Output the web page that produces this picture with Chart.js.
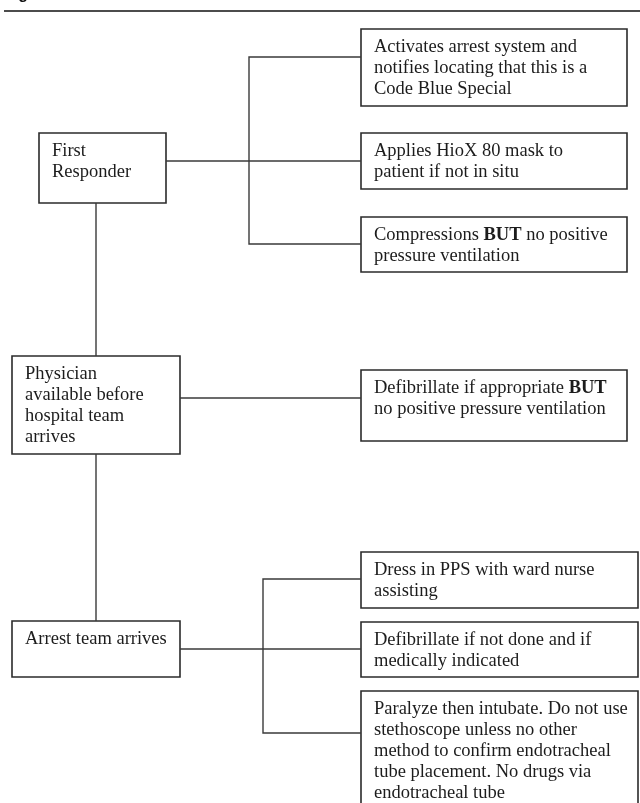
<!DOCTYPE html>
<html>
<head>
<meta charset="utf-8">
<script src="https://cdn.jsdelivr.net/npm/chart.js@4.4.1/dist/chart.umd.min.js"></script>
<style>
  html, body { margin: 0; padding: 0; background: #ffffff; }
  #wrap { width: 640px; height: 803px; overflow: hidden; }
  canvas { display: block; }
</style>
</head>
<body>
<div id="wrap"><canvas id="c" width="640" height="803"></canvas></div>
<script>
// ---- Diagram content (flowchart nodes and links, in diagram units) ----
const figureTitle = 'Figure 3';

const nodeText = [
  ['First', 'Responder'],
  ['Activates arrest system and', 'notifies locating that this is a', 'Code Blue Special'],
  ['Applies HioX 80 mask to', 'patient if not in situ'],
  ['Compressions **BUT** no positive', 'pressure ventilation'],
  ['Physician', 'available before', 'hospital team', 'arrives'],
  ['Defibrillate if appropriate **BUT**', 'no positive pressure ventilation'],
  ['Arrest team arrives'],
  ['Dress in PPS with ward nurse', 'assisting'],
  ['Defibrillate if not done and if', 'medically indicated'],
  ['Paralyze then intubate. Do not use', 'stethoscope unless no other', 'method to confirm endotracheal', 'tube placement. No drugs via', 'endotracheal tube']
];
const nodeLeft   = [39, 361, 361, 361, 12, 361, 12, 361, 361, 361];
const nodeRight  = [166, 627, 627, 627, 180, 627, 180, 638, 638, 638];
const nodeTop    = [133, 29, 133, 217, 356, 370, 621, 552, 622, 691];
const nodeBottom = [203, 106, 189, 272, 454, 441, 677, 608, 677, 840];

const ruleLine = [[4, 11], [640, 11]];
const links = [
  [[166, 161], [361, 161]],
  [[361, 57], [249, 57], [249, 244], [361, 244]],
  [[96, 203], [96, 356]],
  [[180, 398], [361, 398]],
  [[96, 454], [96, 621]],
  [[180, 649], [361, 649]],
  [[361, 579], [263, 579], [263, 733], [361, 733]]
];

// ---- build datasets ----
const ink = '#2b2b2b';
const datasets = [];
datasets.push({
  label: 'rule',
  data: ruleLine.map(p => ({ x: p[0], y: p[1] })),
  showLine: true, borderColor: '#111', borderWidth: 1.6, pointRadius: 0, fill: false
});
links.forEach((pts, i) => {
  datasets.push({
    label: 'link' + i,
    data: pts.map(p => ({ x: p[0], y: p[1] })),
    showLine: true, borderColor: '#3a3a3a', borderWidth: 1.4, pointRadius: 0, fill: false,
    borderJoinStyle: 'miter'
  });
});
nodeText.forEach((t, i) => {
  const x0 = nodeLeft[i], x1 = nodeRight[i], y0 = nodeTop[i], y1 = nodeBottom[i];
  datasets.push({
    label: 'box' + i,
    data: [{x: x0, y: y0}, {x: x1, y: y0}, {x: x1, y: y1}, {x: x0, y: y1}, {x: x0, y: y0}],
    showLine: true, borderColor: ink, borderWidth: 1.6, pointRadius: 0, fill: false,
    borderJoinStyle: 'miter', borderCapStyle: 'square'
  });
});

const FONT_SIZE = 18.5;
const FAMILY = '"Liberation Serif", "Times New Roman", serif';
const PAD_X = 13, FIRST_BASE = 23, LINE_H = 21;

function drawRich(ctx, str, x, y) {
  const parts = str.split('**');
  let cx = x;
  parts.forEach((seg, k) => {
    if (!seg) return;
    ctx.font = (k % 2 === 1 ? 'bold ' : '') + FONT_SIZE + 'px ' + FAMILY;
    ctx.fillText(seg, cx, y);
    cx += ctx.measureText(seg).width;
  });
}

const textPlugin = {
  id: 'nodeText',
  afterDatasetsDraw(chart) {
    const ctx = chart.ctx;
    const xs = chart.scales.x, ys = chart.scales.y;
    ctx.save();
    ctx.fillStyle = '#1c1c1c';
    ctx.textBaseline = 'alphabetic';
    ctx.textAlign = 'left';
    nodeText.forEach((lines, i) => {
      const px = xs.getPixelForValue(nodeLeft[i] + PAD_X);
      lines.forEach((ln, j) => {
        const py = ys.getPixelForValue(nodeTop[i] + FIRST_BASE + j * LINE_H);
        drawRich(ctx, ln, px, py);
      });
    });
    // cropped figure caption at top edge
    ctx.font = 'bold 16px "Liberation Sans", Arial, sans-serif';
    ctx.fillStyle = '#111';
    ctx.fillText(figureTitle, xs.getPixelForValue(4), ys.getPixelForValue(-1));
    ctx.restore();
  }
};

new Chart(document.getElementById('c'), {
  type: 'scatter',
  data: { datasets },
  options: {
    responsive: false,
    animation: false,
    devicePixelRatio: 1,
    layout: { padding: 0 },
    plugins: { legend: { display: false }, tooltip: { enabled: false }, title: { display: false } },
    scales: {
      x: { type: 'linear', min: 0, max: 640, display: false },
      y: { type: 'linear', min: 0, max: 803, reverse: true, display: false }
    },
    elements: { line: { tension: 0 } }
  },
  plugins: [textPlugin]
});
</script>
</body>
</html>
